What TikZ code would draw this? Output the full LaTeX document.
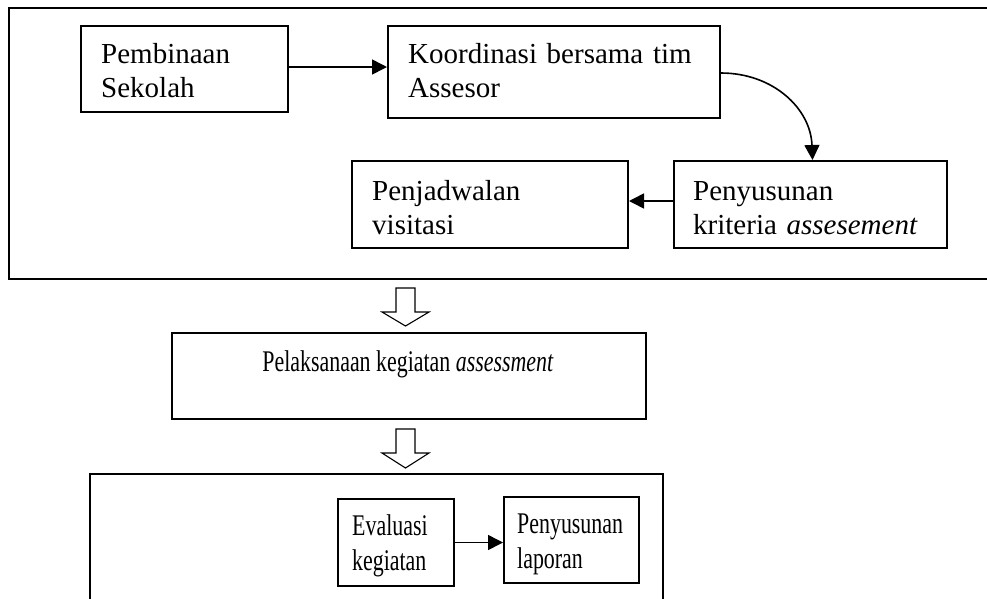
\documentclass[tikz,border=0pt]{standalone}
\usepackage{fontspec}
\setmainfont{Liberation Serif}
\newfontfamily\narrowserif[FakeStretch=0.73]{Liberation Serif}
\usetikzlibrary{arrows.meta}
\begin{document}
\begin{tikzpicture}[x=1pt,y=-1pt,
  frame/.style={draw,line width=2pt,rectangle,inner sep=0pt,anchor=north west},
  box/.style={draw,line width=2pt,rectangle,inner sep=0pt,anchor=north west},
  txt/.style={inner sep=0pt,anchor=base west,align=left,
    font=\fontsize{29}{34}\selectfont},
  ntxt/.style={txt,font=\narrowserif\fontsize{30}{35}\selectfont},
  arr/.style={line width=1.6pt,-{Triangle[length=15pt,width=15pt]}},
  hollow/.style={draw,line width=1.1pt,fill=white,line join=miter}]
\useasboundingbox (0,0) rectangle (987,598);
\clip (0,0) rectangle (987,598);
\fill[white] (0,0) rectangle (987,598);
% frames
\node[frame,minimum width=985pt,minimum height=271pt] (topframe) at (8,7) {};
\node[frame,minimum width=573pt,minimum height=135pt] (botframe) at (89,473) {};
% top boxes
\node[box,minimum width=207pt,minimum height=86pt] (pemb) at (80,25) {};
\node[box,minimum width=332pt,minimum height=92pt] (koord) at (387,25) {};
\node[box,minimum width=276pt,minimum height=87pt] (jadwal) at (351,160) {};
\node[box,minimum width=273pt,minimum height=87pt] (krit) at (673,160) {};
\node[box,minimum width=474pt,minimum height=86pt] (laks) at (171,332) {};
\node[box,minimum width=116pt,minimum height=87pt] (eval) at (337,498) {};
\node[box,minimum width=135pt,minimum height=86pt] (lap) at (503,496) {};
% texts
\node[txt,text width=180pt] (pembT) at (101,63) {Pembinaan\\Sekolah};
\node[txt,text width=300pt] (koordT) at (408,63) {Koordinasi bersama tim\\Assesor};
\node[txt,text width=240pt] (jadwalT) at (372,200) {Penjadwalan\\visitasi};
\node[txt,text width=245pt] (kritT) at (693,200) {Penyusunan\\kriteria \textit{assesement}};
\node[ntxt,anchor=base] (laksT) at (408,371) {Pelaksanaan kegiatan \textit{assessment}};
\node[ntxt,text width=100pt] (evalT) at (352,535) {Evaluasi\\kegiatan};
\node[ntxt,text width=120pt] (lapT) at (517,533) {Penyusunan\\laporan};
% connectors
\draw[arr] ([yshift=2pt]pemb.east) -- ([yshift=2pt]pemb.east -| koord.west);
\draw[arr] ([yshift=-1pt]koord.east) to[out=0,in=92,looseness=1.05] ([xshift=2pt]krit.north);
\draw[arr] ([yshift=3.5pt]krit.west) -- ([yshift=3.5pt]krit.west -| jadwal.east);
\draw[arr] (eval.east) -- (eval.east -| lap.west);
% hollow arrows
\coordinate (h1) at (405.5,288);
\coordinate (h2) at (405.5,429);
\foreach \c/\hl in {h1/14,h2/15}{
  \draw[hollow] (\c) ++(-9.5,0) -- ++(0,24) -- ++(-14,0) -- ++(23.5,\hl) -- ++(23.5,-\hl) -- ++(-14,0) -- ++(0,-24) -- cycle;
}
\end{tikzpicture}
\end{document}
